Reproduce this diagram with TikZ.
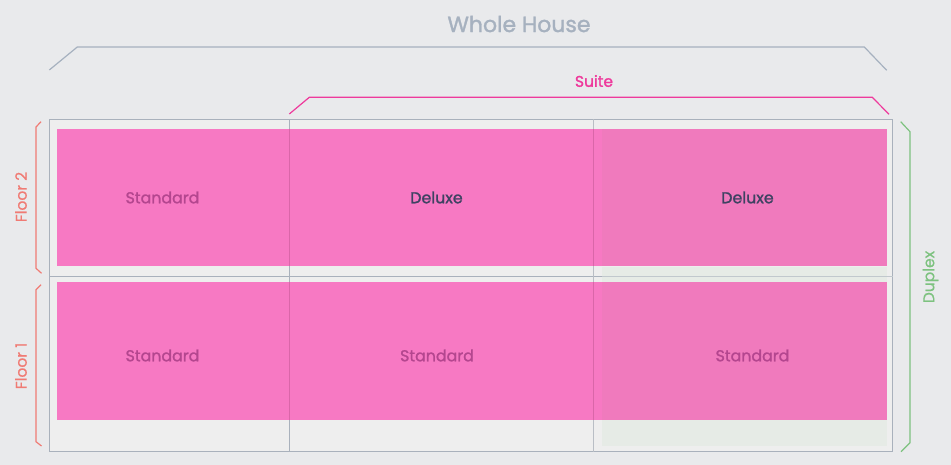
\documentclass[tikz,border=0pt]{standalone}
\usepackage{fontspec}
\setmainfont{Poppins}
\newfontfamily\pmed[FakeBold=1.4]{Poppins}
\newfontfamily\preg[FakeBold=0.5]{Poppins}
\definecolor{bgc}{HTML}{E9EAEC}
\definecolor{gridfill}{HTML}{EEEEEE}
\definecolor{gridline}{HTML}{A9B1BC}
\definecolor{gridlineB}{HTML}{B9BEC5}
\definecolor{pinkA}{HTML}{F779C3}
\definecolor{pinkB}{HTML}{F07ABD}
\definecolor{pinkline}{HTML}{DA66A9}
\definecolor{greenfill}{HTML}{E6EBE6}
\definecolor{housegray}{HTML}{A6B1BF}
\definecolor{suitepink}{HTML}{EE3A9C}
\definecolor{floorred}{HTML}{F07B74}
\definecolor{duplexgreen}{HTML}{7DC27F}
\definecolor{stdtext}{HTML}{B4468F}
\definecolor{dlxtext}{HTML}{3E4262}
\tikzset{
  room/.style={font=\pmed\fontsize{15.8}{18}\selectfont},
  stdlabel/.style={room, text=stdtext},
  dlxlabel/.style={room, text=dlxtext},
  bracketline/.style={line width=1.2pt, line join=miter},
  sidelabel/.style={font=\preg\fontsize{15.5}{18}\selectfont, rotate=90},
}
\begin{document}
\begin{tikzpicture}[x=1pt,y=-1pt]
\useasboundingbox (0,0) rectangle (951,465);
\fill[bgc] (0,0) rectangle (951,465);
% grid
\fill[gridfill] (49.5,119.5) rectangle (892.5,451.5);
\fill[greenfill] (602,267) rectangle (886.5,445.5);
\draw[gridline, line width=1pt] (49.5,119.5) rectangle (892.5,451.5);
\draw[gridline, line width=1pt] (49.5,276.3) -- (602,276.3);
\draw[gridline!60!greenfill, line width=1pt] (602,276.3) -- (892.5,276.3);
\draw[gridline, line width=1pt] (289.3,119.5) -- (289.3,451.5);
\draw[gridlineB, line width=1.4pt] (593.7,119.5) -- (593.7,451.5);
% pink rooms
\fill[pinkA] (57.3,129.3) rectangle (602,266.2);
\fill[pinkB] (602,129.3) rectangle (886.5,266.2);
\fill[pinkA] (57.3,281.7) rectangle (602,419.7);
\fill[pinkB] (602,281.7) rectangle (886.5,419.7);
\draw[pinkline, line width=1pt] (289.3,129.3) -- (289.3,266.2) (289.3,281.7) -- (289.3,419.7);
\draw[pinkline, line width=1.4pt] (593.7,129.3) -- (593.7,266.2) (593.7,281.7) -- (593.7,419.7);
% labels
\node[stdlabel] (s1) at (162.5,197.5) {Standard};
\node[dlxlabel] (d1) at (436.5,197.5) {Deluxe};
\node[dlxlabel] (d2) at (747.5,197.5) {Deluxe};
\node[stdlabel] (s2) at (162.5,355.5) {Standard};
\node[stdlabel] (s3) at (437,355.5) {Standard};
\node[stdlabel] (s4) at (752.5,355.5) {Standard};
% whole house bracket
\draw[housegray, bracketline] (49.3,70) -- (77.3,47) -- (864.3,47) -- (886.7,70.3);
\node[font=\pmed\fontsize{22}{26}\selectfont, text=housegray] (wh) at (519,24) {Whole House};
% suite bracket
\draw[suitepink, bracketline] (289.3,114) -- (309.3,97.3) -- (872.3,97.3) -- (889,114.3);
\node[font=\pmed\fontsize{15.5}{18}\selectfont, text=suitepink] (su) at (594,81) {Suite};
% floor brackets
\draw[floorred, bracketline] (41,121.7) -- (36,127) -- (36,268.3) -- (41.5,273.3);
\draw[floorred, bracketline] (41,284.7) -- (36,289.7) -- (36,441.7) -- (41.5,446);
\node[sidelabel, text=floorred] (f2) at (21,197) {Floor 2};
\node[sidelabel, text=floorred] (f1) at (21,366) {Floor 1};
% duplex bracket
\draw[duplexgreen, bracketline] (900.7,121.7) -- (910,131.7) -- (910,442.7) -- (901,451.7);
\node[sidelabel, text=duplexgreen] (dx) at (930.5,277) {Duplex};
\end{tikzpicture}
\end{document}
